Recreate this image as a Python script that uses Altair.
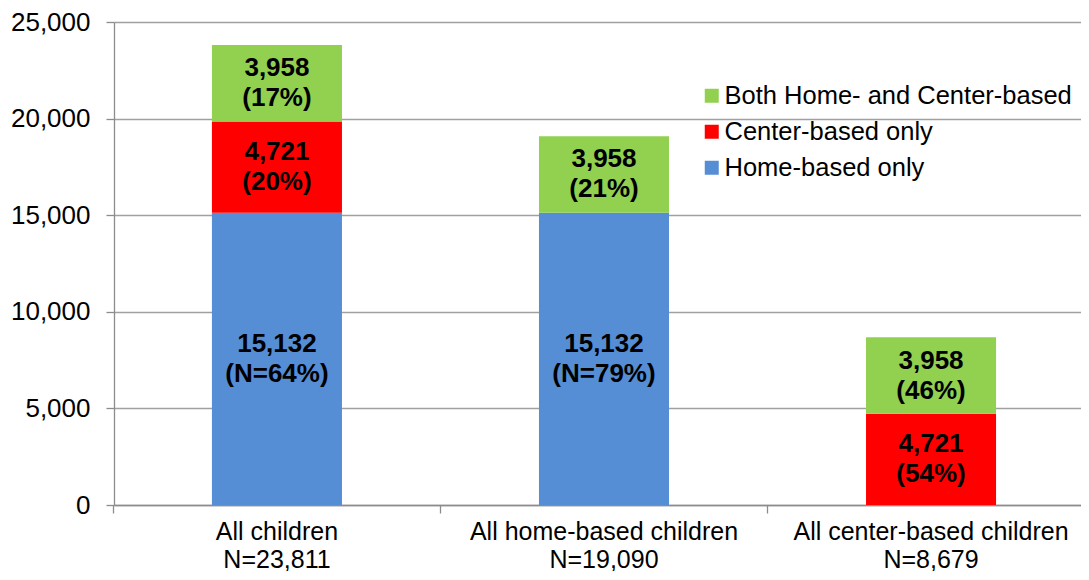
import altair as alt
import pandas as pd

categories = ["All children|N=23,811", "All home-based children|N=19,090", "All center-based children|N=8,679"]
series_names = ["Home-based only", "Center-based only", "Both Home- and Center-based"]
home_values = [15132, 15132, None]
center_values = [4721, None, 4721]
both_values = [3958, 3958, 3958]
home_pct = ["(N=64%)", "(N=79%)", None]
center_pct = ["(20%)", None, "(54%)"]
both_pct = ["(17%)", "(21%)", "(46%)"]
colors = ["#558ED5", "#FF0000", "#92D050"]

rows = []
for i, cat in enumerate(categories):
    for k, (vals, pcts) in enumerate([(home_values, home_pct), (center_values, center_pct), (both_values, both_pct)]):
        v = vals[i]
        if v is None:
            continue
        rows.append({"category": cat, "series": series_names[k], "order": k,
                     "value": v, "label": f"{v:,}|{pcts[i]}"})
df = pd.DataFrame(rows)

legend_order = [series_names[2], series_names[1], series_names[0]]
legend_colors = [colors[2], colors[1], colors[0]]

base = alt.Chart(df).transform_stack(
    stack="value", groupby=["category"], as_=["y0", "y1"], sort=[alt.SortField("order")]
).transform_calculate(
    mid="(datum.y0 + datum.y1) / 2",
    lines="split(datum.label, '|')"
)

xscale = alt.Scale(paddingInner=0.6024, paddingOuter=0.2796, align=0.5355)

xenc = alt.X("category:N", sort=categories, title=None, scale=xscale,
             axis=alt.Axis(labelExpr="split(datum.label, '|')", labelAngle=0, bandPosition=-0.758,
                           tickSize=8, labelPadding=6, labelFontSize=25, labelLineHeight=28,
                           labelLimit=600,
                           labelColor="#000000", domainColor="#8c8c8c", tickColor="#8c8c8c",
                           domainWidth=1.3, tickWidth=1.3, grid=False))

bars = base.mark_bar(stroke=None).encode(
    x=xenc,
    y=alt.Y("y1:Q", title=None, scale=alt.Scale(domain=[0, 25000], nice=False),
            axis=alt.Axis(values=[0, 5000, 10000, 15000, 20000, 25000], format=",d",
                          tickSize=8, labelPadding=16, labelFontSize=26, labelColor="#000000",
                          grid=True, gridColor="#a0a0a0", gridWidth=1.3,
                          domainColor="#8c8c8c", tickColor="#8c8c8c", domainWidth=1.3, tickWidth=1.3)),
    y2="y0:Q",
    color=alt.Color("series:N", scale=alt.Scale(domain=legend_order, range=legend_colors),
                    legend=alt.Legend(title=None, orient="none", legendX=585, legendY=61,
                                      symbolType="square", symbolSize=196, symbolStrokeWidth=0,
                                      labelFontSize=25.5, labelColor="#000000", rowPadding=9,
                                      labelOffset=0, labelLimit=600))
)

texts = base.mark_text(fontSize=26, fontWeight="bold", color="#000000", lineHeight=30,
                       baseline="middle", align="center", dy=-15).encode(
    x=alt.X("category:N", sort=categories, scale=xscale),
    y=alt.Y("mid:Q"),
    text=alt.Text("lines:N")
)

chart = alt.layer(bars, texts).properties(
    width=967, height=483,
    autosize=alt.AutoSizeParams(type="none"),
    padding={"left": 106, "top": 14, "right": 0, "bottom": 66}
).configure(font="Liberation Sans").configure_view(stroke=None)

chart.save("out.html", embed_options={"renderer": "svg", "actions": False})
